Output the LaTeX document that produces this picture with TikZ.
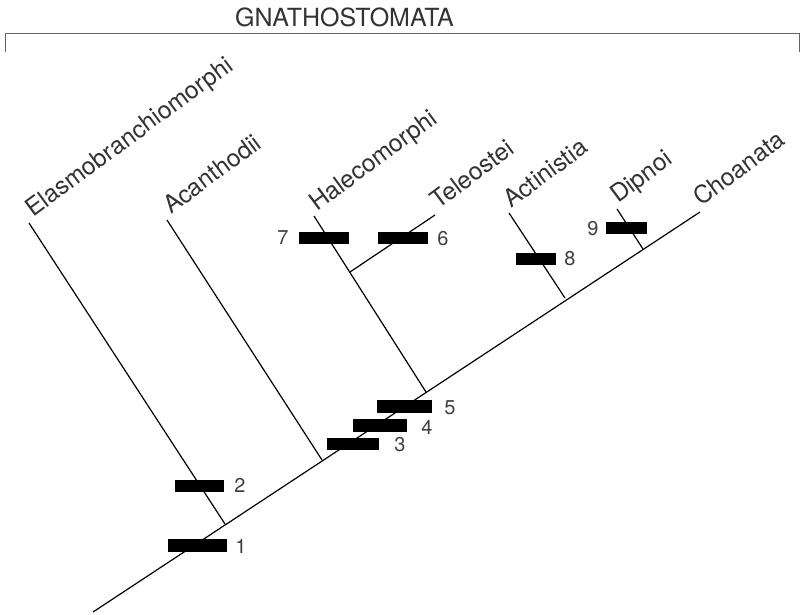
\documentclass[tikz,border=0pt]{standalone}
\usepackage{fontspec}
\setmainfont{TeX Gyre Heros}
\begin{document}
\begin{tikzpicture}[x=1pt,y=-1pt,
  branch/.style={line width=1.2pt,black},
  bar/.style={fill=black,draw=none,inner sep=0pt,minimum height=12.5pt},
  num/.style={inner sep=0pt,text=black!75,font=\fontsize{20}{24}\selectfont},
  taxon/.style={anchor=base west,rotate=36.5,inner sep=0pt,text=black!80,font=\fontsize{24.5}{29}\selectfont},
  bracketline/.style={line width=1pt,black!60}]
\useasboundingbox (0,0) rectangle (801,614);
% title and bracket
\node[anchor=base west,inner sep=0pt,text=black!80,font=\fontsize{25}{30}\selectfont] (title) at (235,26) {GNATHOSTOMATA};
\coordinate (bl1) at (5,52);
\coordinate (bl2) at (5,33);
\coordinate (br2) at (799,33);
\coordinate (br1) at (799,52);
\draw[bracketline] (bl1) -- (bl2) -- (br2) -- (br1);
% tree coordinates
\coordinate (root) at (93,612);
\coordinate (j1) at (225,524);
\coordinate (j2) at (322,460);
\coordinate (j3) at (426,392);
\coordinate (j4) at (565,298);
\coordinate (j5) at (643,249);
\coordinate (hj) at (350,272);
\coordinate (tE) at (29,223);
\coordinate (tA) at (167,220);
\coordinate (tH) at (314,216);
\coordinate (tT) at (435,215);
\coordinate (tAc) at (509,213);
\coordinate (tD) at (617,209);
\coordinate (tC) at (700,212);
% branches
\draw[branch] (root) -- (tC);
\draw[branch] (j1) -- (tE);
\draw[branch] (j2) -- (tA);
\draw[branch] (j3) -- (tH);
\draw[branch] (hj) -- (tT);
\draw[branch] (j4) -- (tAc);
\draw[branch] (j5) -- (tD);
% taxon labels
\node[taxon] (lE) at (33,218) {Elasmobranchiomorphi};
\node[taxon] (lA) at (171,215) {Acanthodii};
\node[taxon] (lH) at (317,212) {Halecomorphi};
\node[taxon] (lT) at (438,210) {Teleostei};
\node[taxon] (lAc) at (511,209) {Actinistia};
\node[taxon] (lD) at (618,204) {Dipnoi};
\node[taxon] (lC) at (701,207) {Choanata};
% character bars
\node[bar,minimum width=59pt] (b1) at (197.5,545.5) {};
\node[bar,minimum width=49pt] (b2) at (199.5,486) {};
\node[bar,minimum width=52pt] (b3) at (353,444) {};
\node[bar,minimum width=54pt] (b4) at (380,425.5) {};
\node[bar,minimum width=55pt] (b5) at (404.5,406.5) {};
\node[bar,minimum width=50pt] (b6) at (403,238) {};
\node[bar,minimum width=50pt] (b7) at (324,238) {};
\node[bar,minimum width=40pt] (b8) at (536,259) {};
\node[bar,minimum width=41pt] (b9) at (626.5,228) {};
% numbers
\node[num] (n1) at (241,546) {1};
\node[num] (n2) at (240,485) {2};
\node[num] (n3) at (400,445) {3};
\node[num] (n4) at (427,427) {4};
\node[num] (n5) at (450,408) {5};
\node[num] (n6) at (443,239) {6};
\node[num] (n7) at (283,238) {7};
\node[num] (n8) at (570,259) {8};
\node[num] (n9) at (593,229) {9};
\end{tikzpicture}
\end{document}
